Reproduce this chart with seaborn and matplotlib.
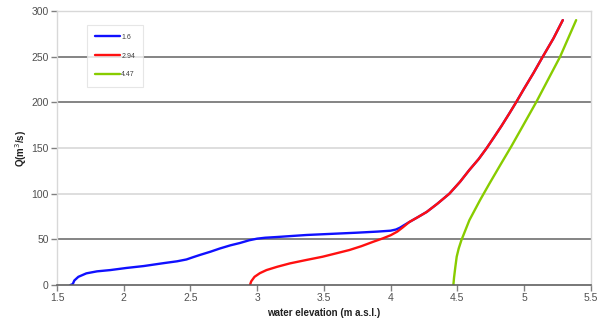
import matplotlib
matplotlib.use("Agg")
import matplotlib.pyplot as plt
import seaborn as sns
import pandas as pd

# Rating curves: water elevation (m a.s.l.) vs discharge Q (m3/s)
labels = ["1.6", "2.94", "4.47"]
colors = ["#1010ff", "#ff1010", "#88cc00"]

elev_16 = [1.600, 1.618, 1.630, 1.660, 1.720, 1.800, 1.900, 2.020, 2.150, 2.300, 2.400, 2.470, 2.520, 2.570,
           2.650, 2.720, 2.800, 2.870, 2.940, 3.000, 3.060, 3.150, 3.370, 3.550, 3.745, 3.900, 4.000,
           4.040, 4.070, 4.100, 4.140,
           4.200, 4.270, 4.350, 4.440, 4.520, 4.590, 4.660, 4.720, 4.780, 4.830, 4.890, 4.940, 5.000,
           5.070, 5.140, 5.220, 5.290]
q_16 = [0, 1, 5, 9, 12.8, 15, 16.4, 18.7, 20.8, 24, 26, 28, 30.5, 32.9,
        36.5, 40, 43.5, 46, 49, 50.8, 51.8, 52.6, 54.8, 56, 57.3, 58.5, 59.5,
        60.8, 62.8, 65.5, 69,
        74, 80, 89, 100, 113, 126, 138, 150, 163, 174, 188, 200, 215,
        232, 250, 270, 290]

elev_294 = [2.946, 2.955, 2.980, 3.020, 3.070, 3.150, 3.245, 3.370, 3.490, 3.600, 3.690, 3.780, 3.870,
            3.940, 4.000, 4.050, 4.090, 4.140, 4.200, 4.270, 4.350, 4.440, 4.520, 4.590, 4.660, 4.720,
            4.780, 4.830, 4.890, 4.940, 5.000, 5.070, 5.140, 5.220, 5.290]
q_294 = [0, 4, 9, 13, 16.4, 20, 23.7, 27.5, 31, 35, 38.3, 42.5, 47.4,
         51, 54.5, 58.5, 63, 69, 74, 80, 89, 100, 113, 126, 138, 150,
         163, 174, 188, 200, 215, 232, 250, 270, 290]

elev_447 = [4.470, 4.475, 4.485, 4.495, 4.510, 4.530, 4.560, 4.590, 4.630, 4.670, 4.740, 4.820, 4.905,
            4.990, 5.090, 5.180, 5.270, 5.330, 5.390]
q_447 = [0, 8, 20, 31, 40, 49, 60, 71, 82, 93, 111, 131, 152,
         174, 200, 225, 250, 270, 290]

frames = []
for lab, xs, ys in zip(labels, [elev_16, elev_294, elev_447], [q_16, q_294, q_447]):
    frames.append(pd.DataFrame({"elev": xs, "Q": ys, "series": lab}))
df = pd.concat(frames, ignore_index=True)

sns.set_theme(style="white")
plt.rcParams["font.family"] = ["Liberation Sans", "DejaVu Sans"]

fig = plt.figure(figsize=(5.98, 3.33), dpi=100)
ax = fig.add_axes([0.0953, 0.144, 0.8927, 0.823])

# horizontal gridlines: dark at 50/200/250, light at 100/150/300
for y, c in [(50, "#707070"), (100, "#d8d8d8"), (150, "#d8d8d8"), (200, "#707070"), (250, "#707070"), (300, "#d8d8d8")]:
    ax.axhline(y, color=c, lw=1.2, zorder=0)

sns.lineplot(data=df, x="elev", y="Q", hue="series", palette=dict(zip(labels, colors)),
             sort=False, estimator=None, lw=1.7, ax=ax)
for line in ax.get_lines():
    line.set_solid_joinstyle("round")

ax.set_xlim(1.5, 5.5)
ax.set_ylim(0, 300)
ax.set_xticks([1.5, 2, 2.5, 3, 3.5, 4, 4.5, 5, 5.5])
ax.set_xticklabels(["1.5", "2", "2.5", "3", "3.5", "4", "4.5", "5", "5.5"])
ax.set_yticks([0, 50, 100, 150, 200, 250, 300])

for s in ["left", "right", "top"]:
    ax.spines[s].set_color("#d8d8d8")
    ax.spines[s].set_linewidth(1)
ax.spines["bottom"].set_color("#606060")
ax.spines["bottom"].set_linewidth(1.2)

ax.tick_params(axis="both", labelsize=7.5, labelcolor="#505050", length=4, width=1,
               color="#808080", direction="out", bottom=True, left=True, pad=2)

ax.set_xlabel("water elevation (m a.s.l.)", fontsize=7, fontweight="bold", color="#202020", labelpad=3)
ax.set_ylabel("Q(m$^3$/s)", fontsize=7, fontweight="bold", color="#202020", labelpad=2)

leg = ax.legend(title=None, loc="upper left", bbox_to_anchor=(0.05, 0.96), fontsize=5,
                frameon=True, fancybox=False, edgecolor="#e0e0e0", handlelength=3.5,
                labelspacing=1.7, borderpad=1.2, handletextpad=0.2)
leg.get_frame().set_linewidth(0.8)
for t in leg.get_texts():
    t.set_color("#404040")

fig.savefig("out.png", dpi=100)
